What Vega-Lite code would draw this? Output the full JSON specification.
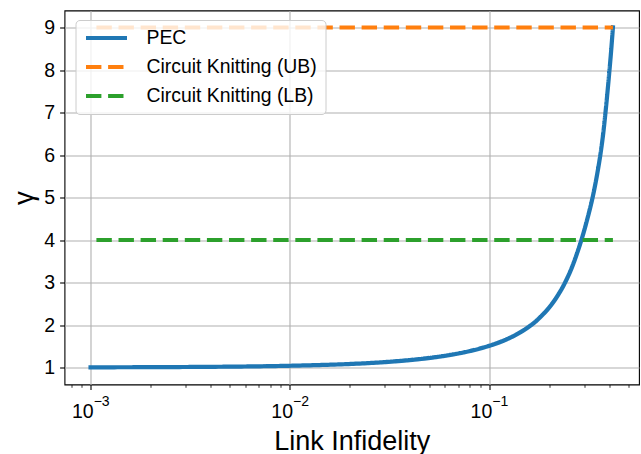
{
  "$schema": "https://vega.github.io/schema/vega-lite/v6.json",
  "autosize": {"type": "none"},
  "width": 574.5,
  "height": 374,
  "padding": {"left": 64.5, "top": 10.5, "right": 2, "bottom": 69.5},
  "background": "white",
  "config": {
    "font": "Liberation Sans",
    "view": {"stroke": "black", "strokeWidth": 1.1}
  },
  "data": {
    "values": [
      {"series": "PEC", "p": 0.001, "gamma": 1.004},
      {"series": "PEC", "p": 0.0015, "gamma": 1.006},
      {"series": "PEC", "p": 0.002, "gamma": 1.008},
      {"series": "PEC", "p": 0.003, "gamma": 1.012},
      {"series": "PEC", "p": 0.005, "gamma": 1.02},
      {"series": "PEC", "p": 0.007, "gamma": 1.028},
      {"series": "PEC", "p": 0.01, "gamma": 1.041},
      {"series": "PEC", "p": 0.015, "gamma": 1.062},
      {"series": "PEC", "p": 0.02, "gamma": 1.083},
      {"series": "PEC", "p": 0.03, "gamma": 1.128},
      {"series": "PEC", "p": 0.04, "gamma": 1.175},
      {"series": "PEC", "p": 0.05, "gamma": 1.224},
      {"series": "PEC", "p": 0.06, "gamma": 1.276},
      {"series": "PEC", "p": 0.07, "gamma": 1.33},
      {"series": "PEC", "p": 0.08, "gamma": 1.387},
      {"series": "PEC", "p": 0.09, "gamma": 1.447},
      {"series": "PEC", "p": 0.1, "gamma": 1.51},
      {"series": "PEC", "p": 0.11, "gamma": 1.575},
      {"series": "PEC", "p": 0.12, "gamma": 1.645},
      {"series": "PEC", "p": 0.13, "gamma": 1.72},
      {"series": "PEC", "p": 0.14, "gamma": 1.8},
      {"series": "PEC", "p": 0.15, "gamma": 1.885},
      {"series": "PEC", "p": 0.16, "gamma": 1.975},
      {"series": "PEC", "p": 0.17, "gamma": 2.07},
      {"series": "PEC", "p": 0.18, "gamma": 2.18},
      {"series": "PEC", "p": 0.19, "gamma": 2.29},
      {"series": "PEC", "p": 0.2, "gamma": 2.41},
      {"series": "PEC", "p": 0.22, "gamma": 2.68},
      {"series": "PEC", "p": 0.24, "gamma": 2.99},
      {"series": "PEC", "p": 0.26, "gamma": 3.35},
      {"series": "PEC", "p": 0.28, "gamma": 3.77},
      {"series": "PEC", "p": 0.29, "gamma": 3.99},
      {"series": "PEC", "p": 0.31, "gamma": 4.47},
      {"series": "PEC", "p": 0.334, "gamma": 5.1},
      {"series": "PEC", "p": 0.35, "gamma": 5.6},
      {"series": "PEC", "p": 0.364, "gamma": 6.1},
      {"series": "PEC", "p": 0.374, "gamma": 6.52},
      {"series": "PEC", "p": 0.383, "gamma": 6.97},
      {"series": "PEC", "p": 0.392, "gamma": 7.45},
      {"series": "PEC", "p": 0.4, "gamma": 7.9},
      {"series": "PEC", "p": 0.409, "gamma": 8.42},
      {"series": "PEC", "p": 0.418, "gamma": 9.0},
      {"series": "Circuit Knitting (UB)", "p": 0.00107, "gamma": 9},
      {"series": "Circuit Knitting (UB)", "p": 0.418, "gamma": 9},
      {"series": "Circuit Knitting (LB)", "p": 0.00107, "gamma": 4},
      {"series": "Circuit Knitting (LB)", "p": 0.418, "gamma": 4}
    ]
  },
  "layer": [
    {
      "transform": [{"filter": "datum.series === 'PEC'"}],
      "mark": {"type": "line", "strokeWidth": 4.2, "strokeCap": "square", "interpolate": "monotone"},
      "encoding": {
        "x": {
          "field": "p", "type": "quantitative",
          "scale": {"type": "log", "domain": [0.00074, 0.565], "nice": false},
          "axis": {
            "orient": "bottom",
            "values": [0.001, 0.01, 0.1],
            "labelExpr": "'10'",
            "grid": true, "gridColor": "#b0b0b0", "gridWidth": 1.1,
            "domain": false,
            "ticks": true, "tickSize": 4.9, "tickWidth": 1.1, "tickColor": "black",
            "labelFontSize": 19.5, "labelColor": "black",
            "labelBaseline": "alphabetic", "labelPadding": 28, "labelOffset": -8.2,
            "labelFlush": false, "labelOverlap": false,
            "title": "Link Infidelity", "titleFontSize": 27, "titleFontWeight": "normal",
            "titleColor": "black", "titleBaseline": "alphabetic", "titleY": 64.5
          }
        },
        "y": {
          "field": "gamma", "type": "quantitative",
          "scale": {"domain": [0.6, 9.4], "nice": false, "zero": false},
          "axis": {
            "values": [1, 2, 3, 4, 5, 6, 7, 8, 9],
            "grid": true, "gridColor": "#b0b0b0", "gridWidth": 1.1,
            "domain": false,
            "tickSize": 4.9, "tickWidth": 1.1, "tickColor": "black",
            "labelFontSize": 19.5, "labelColor": "black", "labelPadding": 4.9,
            "title": "γ", "titleFontSize": 27.8, "titleFontWeight": "normal",
            "titleColor": "black", "titleBaseline": "alphabetic", "titleAlign": "center",
            "titleAngle": -90,
            "titleX": -32.4, "titleY": 187
          }
        },
        "color": {
          "field": "series", "type": "nominal",
          "scale": {"domain": ["PEC", "Circuit Knitting (UB)", "Circuit Knitting (LB)"], "range": ["#1f77b4", "#ff7f0e", "#2ca02c"]},
          "legend": {
            "title": null, "orient": "none", "legendX": 11, "legendY": 9.5,
            "symbolType": "stroke", "symbolSize": 1681, "symbolStrokeWidth": 4.2,
            "clipHeight": 20, "rowPadding": 9, "padding": 8, "labelOffset": 17,
            "labelFontSize": 19.4, "labelColor": "black", "labelLimit": 400,
            "fillColor": "rgba(255,255,255,0.8)", "strokeColor": "#cccccc", "cornerRadius": 4
          }
        },
        "strokeDash": {
          "field": "series", "type": "nominal",
          "scale": {"domain": ["PEC", "Circuit Knitting (UB)", "Circuit Knitting (LB)"], "range": [[1, 0], [15.4, 6.7], [15.4, 6.7]]},
          "legend": {
            "title": null, "orient": "none", "legendX": 11, "legendY": 9.5,
            "symbolType": "stroke", "symbolSize": 1681, "symbolStrokeWidth": 4.2,
            "clipHeight": 20, "rowPadding": 9, "padding": 8, "labelOffset": 17,
            "labelFontSize": 19.4, "labelColor": "black", "labelLimit": 400,
            "fillColor": "rgba(255,255,255,0.8)", "strokeColor": "#cccccc", "cornerRadius": 4
          }
        }
      }
    },
    {
      "transform": [{"filter": "datum.series === 'Circuit Knitting (UB)'"}],
      "mark": {"type": "line", "strokeWidth": 4.2, "strokeCap": "butt"},
      "encoding": {
        "x": {
          "field": "p", "type": "quantitative",
          "scale": {"type": "log", "domain": [0.00074, 0.565], "nice": false},
          "axis": {
            "orient": "bottom",
            "values": [0.0008, 0.0009, 0.002, 0.003, 0.004, 0.005, 0.006, 0.007, 0.008, 0.009, 0.02, 0.03, 0.04, 0.05, 0.06, 0.07, 0.08, 0.09, 0.2, 0.3, 0.4, 0.5],
            "labels": false, "grid": false, "domain": false,
            "ticks": true, "tickSize": 2.8, "tickWidth": 0.8, "tickColor": "black",
            "title": null
          }
        },
        "y": {
          "field": "gamma", "type": "quantitative",
          "scale": {"domain": [0.6, 9.4], "nice": false, "zero": false},
          "axis": null
        },
        "color": {"field": "series", "type": "nominal"},
        "strokeDash": {"field": "series", "type": "nominal"}
      }
    },
    {
      "transform": [{"filter": "datum.series === 'Circuit Knitting (LB)'"}],
      "mark": {"type": "line", "strokeWidth": 4.2, "strokeCap": "butt"},
      "encoding": {
        "x": {
          "field": "p", "type": "quantitative",
          "scale": {"type": "log", "domain": [0.00074, 0.565], "nice": false},
          "axis": {
            "orient": "bottom",
            "values": [0.001, 0.01, 0.1],
            "labelExpr": "datum.value < 0.005 ? '−3' : (datum.value < 0.05 ? '−2' : '−1')",
            "grid": false, "domain": false,
            "ticks": true, "tickSize": 4.9, "tickOpacity": 0,
            "labelFontSize": 14, "labelColor": "black",
            "labelBaseline": "alphabetic", "labelPadding": 15.7, "labelOffset": 10.6,
            "labelFlush": false, "labelOverlap": false,
            "title": null
          }
        },
        "y": {
          "field": "gamma", "type": "quantitative",
          "scale": {"domain": [0.6, 9.4], "nice": false, "zero": false},
          "axis": null
        },
        "color": {"field": "series", "type": "nominal"},
        "strokeDash": {"field": "series", "type": "nominal"}
      }
    }
  ],
  "resolve": {"axis": {"x": "independent", "y": "independent"}}
}
